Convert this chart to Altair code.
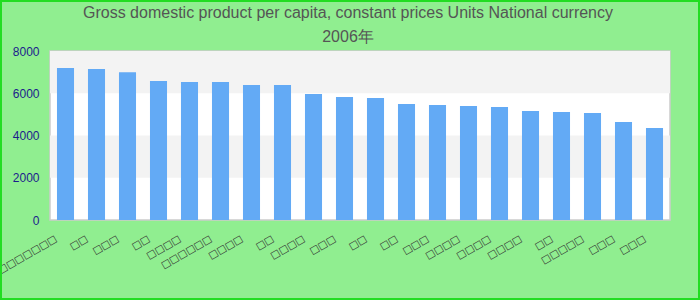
import altair as alt
import pandas as pd
import json

title_lines = ["Gross domestic product per capita, constant prices Units National currency", "2006年"]
labels = ["□□□□□□□", "□□", "□□□", "□□", "□□□□", "□□□□□□", "□□□□", "□□", "□□□□", "□□□",
          "□□", "□□", "□□□", "□□□□", "□□□□", "□□□□", "□□", "□□□□□", "□□□", "□□□"]
values = [7200, 7150, 7000, 6580, 6530, 6530, 6390, 6390, 5965, 5820,
          5775, 5490, 5445, 5395, 5350, 5160, 5110, 5065, 4640, 4355]
band_lo = [2000, 6000]
band_hi = [4000, 8000]
y_ticks = [0, 2000, 4000, 6000, 8000]

df = pd.DataFrame({"label": labels, "value": values, "order": list(range(len(labels)))})
bands = pd.DataFrame({"lo": band_lo, "hi": band_hi})

label_expr = json.dumps(labels, ensure_ascii=False) + "[datum.value]"

bands_layer = alt.Chart(bands).mark_rect(fill="#f3f3f3").encode(
    y=alt.Y("lo:Q", scale=alt.Scale(domain=[0, 8000])),
    y2="hi:Q",
    x=alt.value(0),
    x2=alt.value(620),
)

bars = alt.Chart(df).mark_bar(color="#63aaf5").encode(
    x=alt.X("order:O",
            scale=alt.Scale(paddingInner=0.45, paddingOuter=0.225),
            axis=alt.Axis(title=None, labelAngle=-30, labelAlign="right", labelBaseline="top",
                          labelExpr=label_expr, labelOffset=-12,
                          labelColor="#333333", labelFontSize=10, labelFont="DejaVu Sans",
                          ticks=False, domain=False, labelPadding=13, labelOverlap=False)),
    y=alt.Y("value:Q", scale=alt.Scale(domain=[0, 8000]),
            axis=alt.Axis(title=None, values=y_ticks, format="d", grid=False, ticks=False,
                          domain=False, labelColor="#1c1c8c", labelFontSize=12,
                          labelFont="Liberation Sans", labelPadding=11)),
)

frame = alt.Chart(bands).mark_rect(fill=None, stroke="#22dd22", strokeWidth=2).encode(
    x=alt.value(-49), x2=alt.value(649), y=alt.value(-50), y2=alt.value(248)
)

chart = alt.layer(bands_layer, bars, frame).properties(
    width=620, height=169,
    background="#90ee90",
    padding={"left": 50, "top": 51, "right": 30, "bottom": 80},
    autosize=alt.AutoSizeParams(type="none"),
    title=alt.TitleParams(text=title_lines, fontSize=16, color="#555555", font="Liberation Sans",
                          fontWeight="normal", anchor="middle", offset=0, dy=45, lineHeight=24, dx=-12),
).configure_view(stroke="#cccccc", strokeWidth=1.5, fill="white")

chart.save("out.html", embed_options={"renderer": "svg", "actions": False})
